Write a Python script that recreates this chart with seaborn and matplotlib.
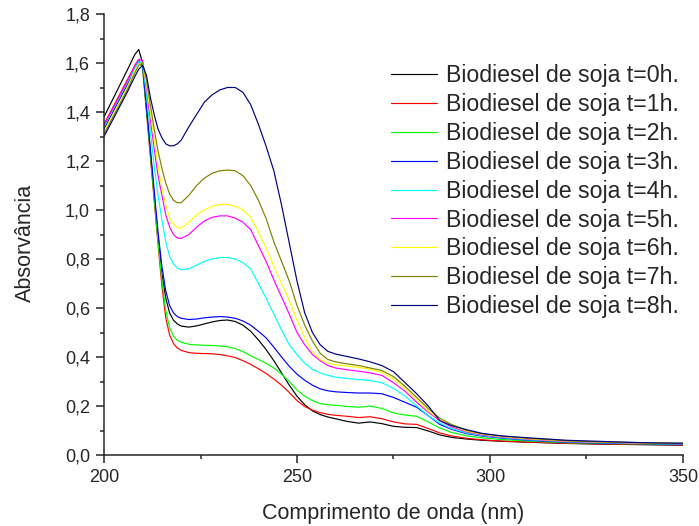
import numpy as np
import pandas as pd
import matplotlib
matplotlib.use("Agg")
import matplotlib.pyplot as plt
import seaborn as sns
from matplotlib.ticker import MultipleLocator, FuncFormatter

# comprimento de onda (nm)
wl = [200, 203, 206, 208, 209, 210, 211, 212, 213, 214, 215, 216, 217, 218, 219, 220,
      222, 224, 226, 228, 230, 232, 234, 236, 238, 240, 242, 244, 246, 248, 250,
      252, 254, 256, 258, 260, 263, 266, 269, 272, 275, 278, 281, 284, 287, 290,
      294, 298, 303, 310, 320, 330, 340, 350]

t0 = [1.38, 1.475, 1.57, 1.635, 1.655, 1.60, 1.42, 1.24, 1.06, 0.89, 0.74, 0.64, 0.58, 0.55, 0.535, 0.526,
      0.522, 0.527, 0.535, 0.543, 0.549, 0.551, 0.545, 0.53, 0.505, 0.47, 0.43, 0.385, 0.335, 0.285, 0.24,
      0.205, 0.18, 0.165, 0.155, 0.148, 0.137, 0.13, 0.135, 0.128, 0.117, 0.113, 0.112, 0.098, 0.082, 0.072,
      0.065, 0.06, 0.056, 0.052, 0.047, 0.044, 0.042, 0.04]
t1 = [1.35, 1.44, 1.53, 1.59, 1.615, 1.58, 1.40, 1.22, 1.04, 0.86, 0.69, 0.56, 0.49, 0.455, 0.437, 0.427,
      0.418, 0.415, 0.414, 0.413, 0.41, 0.405, 0.398, 0.385, 0.37, 0.352, 0.333, 0.31, 0.285, 0.255, 0.222,
      0.198, 0.183, 0.173, 0.166, 0.162, 0.158, 0.153, 0.156, 0.148, 0.135, 0.127, 0.125, 0.108, 0.09, 0.078,
      0.068, 0.062, 0.057, 0.053, 0.048, 0.045, 0.043, 0.041]
t2 = [1.34, 1.43, 1.52, 1.585, 1.61, 1.58, 1.41, 1.23, 1.05, 0.87, 0.71, 0.59, 0.52, 0.485, 0.468, 0.46,
      0.452, 0.449, 0.448, 0.447, 0.445, 0.442, 0.435, 0.422, 0.405, 0.39, 0.374, 0.355, 0.33, 0.30, 0.265,
      0.24, 0.222, 0.21, 0.205, 0.203, 0.198, 0.195, 0.20, 0.19, 0.172, 0.163, 0.158, 0.135, 0.11, 0.092,
      0.078, 0.07, 0.063, 0.057, 0.05, 0.047, 0.045, 0.043]
t3 = [1.33, 1.42, 1.51, 1.58, 1.605, 1.59, 1.42, 1.25, 1.08, 0.91, 0.77, 0.67, 0.61, 0.58, 0.565, 0.558,
      0.553, 0.555, 0.56, 0.563, 0.565, 0.563, 0.558, 0.547, 0.53, 0.505, 0.478, 0.44, 0.40, 0.362, 0.33,
      0.305, 0.285, 0.27, 0.262, 0.258, 0.255, 0.253, 0.253, 0.25, 0.235, 0.215, 0.195, 0.16, 0.125, 0.105,
      0.087, 0.077, 0.069, 0.06, 0.052, 0.048, 0.046, 0.044]
t4 = [1.34, 1.43, 1.52, 1.58, 1.605, 1.60, 1.47, 1.32, 1.18, 1.06, 0.96, 0.87, 0.81, 0.78, 0.763, 0.756,
      0.76, 0.775, 0.79, 0.80, 0.806, 0.806, 0.80, 0.785, 0.76, 0.70, 0.64, 0.575, 0.51, 0.45, 0.41,
      0.375, 0.35, 0.335, 0.325, 0.318, 0.312, 0.308, 0.304, 0.295, 0.272, 0.24, 0.20, 0.16, 0.13, 0.108,
      0.09, 0.079, 0.071, 0.062, 0.054, 0.05, 0.047, 0.045]
t5 = [1.345, 1.435, 1.525, 1.59, 1.615, 1.61, 1.50, 1.37, 1.25, 1.14, 1.06, 0.98, 0.93, 0.90, 0.886, 0.884,
      0.90, 0.93, 0.955, 0.97, 0.976, 0.976, 0.967, 0.95, 0.92, 0.855, 0.79, 0.715, 0.645, 0.575, 0.50,
      0.45, 0.41, 0.385, 0.365, 0.355, 0.348, 0.342, 0.335, 0.325, 0.295, 0.26, 0.215, 0.175, 0.14, 0.115,
      0.094, 0.082, 0.073, 0.064, 0.055, 0.051, 0.048, 0.046]
t6 = [1.32, 1.41, 1.50, 1.57, 1.595, 1.60, 1.51, 1.40, 1.29, 1.18, 1.09, 1.02, 0.97, 0.94, 0.928, 0.926,
      0.95, 0.98, 1.00, 1.015, 1.022, 1.023, 1.015, 1.0, 0.97, 0.91, 0.845, 0.77, 0.70, 0.63, 0.55,
      0.48, 0.42, 0.39, 0.375, 0.368, 0.363, 0.357, 0.35, 0.337, 0.31, 0.27, 0.225, 0.18, 0.145, 0.12,
      0.097, 0.085, 0.075, 0.066, 0.057, 0.052, 0.049, 0.047]
t7 = [1.31, 1.40, 1.49, 1.56, 1.59, 1.60, 1.53, 1.43, 1.33, 1.24, 1.17, 1.11, 1.065, 1.04, 1.03, 1.03,
      1.06, 1.10, 1.13, 1.15, 1.16, 1.163, 1.16, 1.14, 1.10, 1.04, 0.965, 0.87, 0.79, 0.71, 0.61,
      0.53, 0.465, 0.415, 0.39, 0.38, 0.372, 0.365, 0.355, 0.345, 0.32, 0.28, 0.235, 0.19, 0.15, 0.125,
      0.10, 0.087, 0.077, 0.068, 0.058, 0.053, 0.05, 0.048]
t8 = [1.30, 1.39, 1.48, 1.545, 1.575, 1.59, 1.55, 1.46, 1.39, 1.33, 1.295, 1.27, 1.262, 1.262, 1.27, 1.285,
      1.34, 1.39, 1.44, 1.47, 1.49, 1.50, 1.50, 1.48, 1.43, 1.35, 1.26, 1.16, 1.02, 0.865, 0.71,
      0.58, 0.50, 0.45, 0.423, 0.412, 0.402, 0.392, 0.38, 0.365, 0.34, 0.295, 0.25, 0.20, 0.14, 0.12,
      0.103, 0.088, 0.078, 0.07, 0.06, 0.055, 0.05, 0.048]

series = [t0, t1, t2, t3, t4, t5, t6, t7, t8]
labels = ["Biodiesel de soja t=%dh." % i for i in range(9)]
colors = ["#000000", "#FF0000", "#00FF00", "#0000FF", "#00FFFF",
          "#FF00FF", "#FFFF00", "#808000", "#000080"]

rows = []
for lab, vals in zip(labels, series):
    for x, y in zip(wl, vals):
        rows.append((lab, x, y))
df = pd.DataFrame(rows, columns=["amostra", "nm", "abs"])

sns.set_style("ticks")
plt.rcParams["font.family"] = ["Liberation Sans", "DejaVu Sans"]

fig = plt.figure(figsize=(6.99, 5.26), dpi=100)
ax = fig.add_axes([104 / 699, 1 - 455 / 526, 579 / 699, 441 / 526])

sns.lineplot(data=df, x="nm", y="abs", hue="amostra", palette=colors,
             estimator=None, sort=False, linewidth=0.85, ax=ax)

ax.set_xlim(200, 350)
ax.set_ylim(0, 1.8)
ax.xaxis.set_major_locator(MultipleLocator(50))
ax.xaxis.set_minor_locator(MultipleLocator(25))
ax.yaxis.set_major_locator(MultipleLocator(0.2))
ax.yaxis.set_minor_locator(MultipleLocator(0.1))
ax.yaxis.set_major_formatter(FuncFormatter(lambda v, p: ("%.1f" % v).replace(".", ",")))
ax.tick_params(which="major", direction="out", length=6, width=1.1, labelsize=13, pad=4)
ax.tick_params(which="minor", direction="out", length=3, width=1.1)
for s in ["left", "bottom"]:
    ax.spines[s].set_linewidth(1.1)
sns.despine(ax=ax)

ax.set_xlabel("Comprimento de onda (nm)", fontsize=15.5, labelpad=12)
ax.set_ylabel("Absorvância", fontsize=15.5, labelpad=21, y=0.48)

h, l = ax.get_legend_handles_labels()
ax.legend(h, labels, loc="upper left", bbox_to_anchor=(391 / 699, 1 - 64 / 526),
          bbox_transform=fig.transFigure, frameon=False, fontsize=16.7,
          handlelength=2.0, handletextpad=0.35, labelspacing=0.255,
          borderpad=0, borderaxespad=0)

fig.savefig("out.png", dpi=100)
